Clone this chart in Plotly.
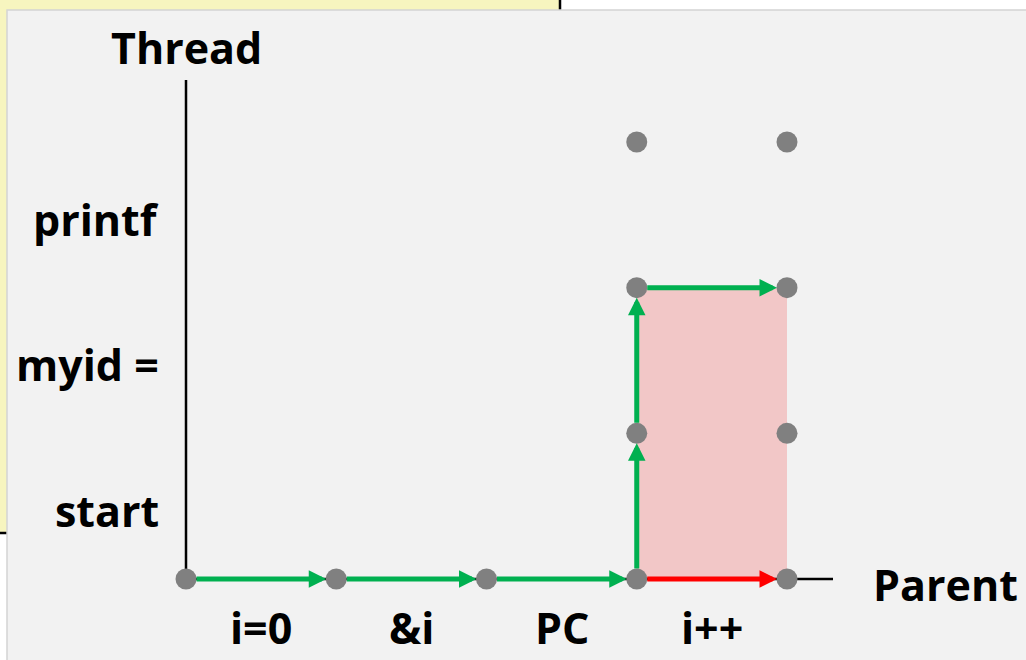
import plotly.graph_objects as go

# ---- data ----
steps = ["i=0", "&i", "PC", "i++"]           # x-axis interval labels
phases = ["start", "myid =", "printf"]       # y-axis interval labels
parent_x = [0, 1, 2, 3, 4]
parent_y = [0, 0, 0, 0, 0]
thread_x = [3, 3, 3, 4, 4, 4]
thread_y = [1, 2, 3, 1, 2, 3]
green_path_x = [0, 1, 2, 3, 3, 3, 4]
green_path_y = [0, 0, 0, 0, 1, 2, 2]
red_path_x = [3, 4]
red_path_y = [0, 0]
shade_x = [3, 4]
shade_y = [0, 2]
x_axis_title = "Parent"
y_axis_title = "Thread"

# ---- layout constants (pixel mapping) ----
W, H = 1026, 660
X0PX, XSTEP = 186, 150.25
Y0PX, YSTEP = 579, 145.67
xr = [-X0PX / XSTEP, (W - X0PX) / XSTEP]
yr = [-(H - Y0PX) / YSTEP, Y0PX / YSTEP]

FONT = "Open Sans"
FS = 43
GREEN = "#00b050"
RED = "#ff0000"
DOT = "#808080"

fig = go.Figure()

fig.add_trace(go.Scatter(x=parent_x + thread_x, y=parent_y + thread_y, mode="markers",
                         marker=dict(size=21, color=DOT, line=dict(width=0)),
                         hoverinfo="skip", showlegend=False))

shapes = []
# background: yellow slide box and grey panel
shapes.append(dict(type="rect", xref="paper", yref="paper", x0=-0.01, x1=560 / W,
                   y0=1 - 533 / H, y1=1.02, fillcolor="#f7f5bf",
                   line=dict(color="black", width=2.5), layer="below"))
shapes.append(dict(type="rect", xref="paper", yref="paper", x0=7 / W, x1=1.01,
                   y0=-0.01, y1=1 - 10 / H, fillcolor="#f2f2f2",
                   line=dict(color="#d4d4d4", width=1.5), layer="below"))
# shaded region
shapes.append(dict(type="rect", xref="x", yref="y", x0=shade_x[0], x1=shade_x[1],
                   y0=shade_y[0], y1=shade_y[1], fillcolor="#f2c7c7",
                   line=dict(width=0), layer="below"))
# axes lines
shapes.append(dict(type="line", xref="x", yref="y", x0=0, x1=0, y0=0, y1=(Y0PX - 80) / YSTEP,
                   line=dict(color="black", width=2.5), layer="below"))
shapes.append(dict(type="line", xref="x", yref="y", x0=0, x1=(833 - X0PX) / XSTEP, y0=0, y1=0,
                   line=dict(color="black", width=2.5), layer="below"))

ann = []
def arrow(x0, y0, x1, y1, color):
    ann.append(dict(x=x1, y=y1, ax=x0, ay=y0, xref="x", yref="y", axref="x", ayref="y",
                    showarrow=True, arrowhead=2, arrowsize=0.7, arrowwidth=5,
                    arrowcolor=color, standoff=10, startstandoff=9, text=""))

for i in range(len(green_path_x) - 1):
    arrow(green_path_x[i], green_path_y[i], green_path_x[i + 1], green_path_y[i + 1], GREEN)
arrow(red_path_x[0], red_path_y[0], red_path_x[1], red_path_y[1], RED)

tf = dict(family=FONT, size=FS, color="black", weight="bold")
for i, s in enumerate(steps):
    ann.append(dict(x=i + 0.5, y=-(627 - Y0PX) / YSTEP, xref="x", yref="y", text=s,
                    showarrow=False, font=tf, xanchor="center", yanchor="middle"))
for i, p in enumerate(phases):
    ann.append(dict(x=(161 - X0PX) / XSTEP, y=i + 0.5 - 0.03, xref="x", yref="y", text=p,
                    showarrow=False, font=tf, xanchor="right", yanchor="middle"))
ann.append(dict(x=0, y=(Y0PX - 47) / YSTEP, xref="x", yref="y", text=y_axis_title,
                showarrow=False, font=tf, xanchor="center", yanchor="middle"))
ann.append(dict(x=(945 - X0PX) / XSTEP, y=-(584 - Y0PX) / YSTEP, xref="x", yref="y",
                text=x_axis_title, showarrow=False, font=tf, xanchor="center", yanchor="middle"))

fig.update_layout(
    width=W, height=H, margin=dict(l=0, r=0, t=0, b=0, pad=0),
    paper_bgcolor="white", plot_bgcolor="rgba(0,0,0,0)",
    xaxis=dict(range=xr, visible=False, fixedrange=True),
    yaxis=dict(range=yr, visible=False, fixedrange=True),
    shapes=shapes, annotations=ann, showlegend=False,
)

fig.write_html("out.html", config={"displayModeBar": False},
               post_script="document.body.style.margin='0';document.body.style.overflow='hidden';")
